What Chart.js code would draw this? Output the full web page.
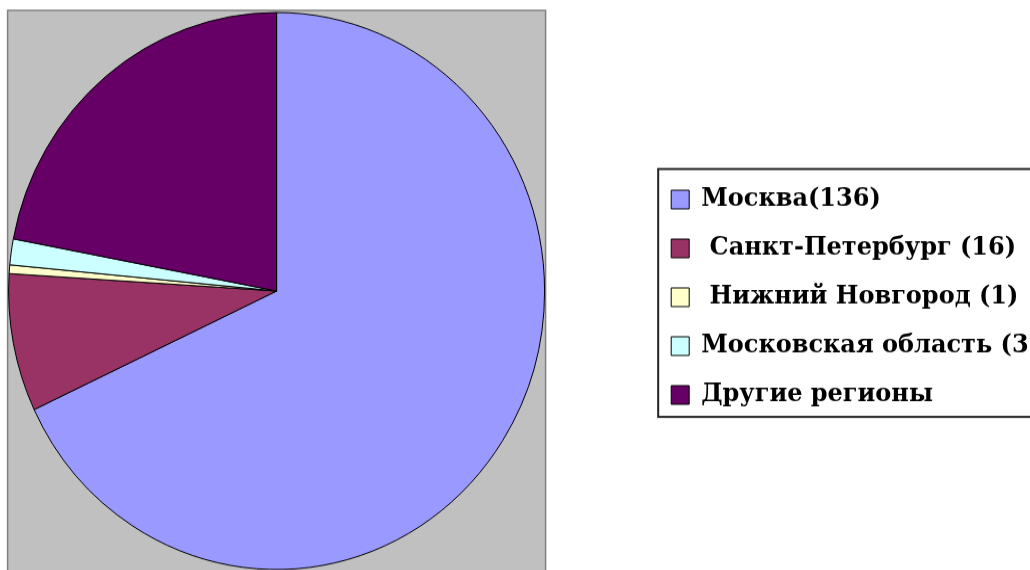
<!DOCTYPE html>
<html>
<head>
    <title>Регионы</title>
    <script src="https://cdn.jsdelivr.net/npm/chart.js"></script>
    <style>
        body {
            margin: 0;
            overflow: hidden;
            background: #fff;
        }
    </style>
</head>
<body>
    <!-- drawn at 560 high and shown a little taller, as in the original -->
    <canvas id="regionChart" width="1050" height="560" style="display:block;width:1050px;height:582px"></canvas>

    <script>
        const regionLabels = ['Москва(136)', ' Санкт-Петербург (16)', ' Нижний Новгород (1)', 'Московская область (3)', 'Другие регионы'];
        const regionValues = [136, 16, 1, 3, 44];
        const regionColors = ['#9999ff', '#993366', '#ffffcc', '#ccffff', '#660066'];

        // grey plot area behind the pie, taken from the pie's own geometry
        const plotBackground = {
            id: 'plotBackground',
            beforeDatasetsDraw(chart) {
                const arc = chart.getDatasetMeta(0).data[0];
                if (!arc) return;
                const r = arc.outerRadius;
                const ctx = chart.ctx;
                ctx.save();
                ctx.fillStyle = '#c0c0c0';
                ctx.fillRect(arc.x - r - 1, arc.y - r - 2, 2 * r + 2, chart.height);
                ctx.strokeStyle = '#808080';
                ctx.lineWidth = 1.5;
                ctx.strokeRect(arc.x - r - 1, arc.y - r - 2, 2 * r + 2, chart.height);
                ctx.restore();
            }
        };

        // frame round the legend
        const legendFrame = {
            id: 'legendFrame',
            afterDraw(chart) {
                const boxes = chart.legend.legendHitBoxes;
                if (!boxes || !boxes.length) return;
                const first = boxes[0];
                const last = boxes[boxes.length - 1];
                const ctx = chart.ctx;
                ctx.save();
                ctx.strokeStyle = '#222';
                ctx.lineWidth = 2;
                ctx.strokeRect(first.left - 13, first.top - 17.4, chart.width, last.top + last.height - first.top + 26.5);
                ctx.restore();
            }
        };

        const ctx = document.getElementById('regionChart').getContext('2d');
        new Chart(ctx, {
            type: 'pie',
            data: {
                labels: regionLabels,
                datasets: [{
                    data: regionValues,
                    backgroundColor: regionColors,
                    borderColor: '#000',
                    borderWidth: 1,
                    radius: 268
                }]
            },
            options: {
                responsive: false,
                animation: false,
                plugins: {
                    tooltip: { enabled: false },
                    // empty title used as a gap between the pie and the legend
                    title: {
                        display: true,
                        text: '',
                        position: 'right',
                        weight: 500,
                        font: { size: 10 },
                        padding: { top: 41.5, bottom: 41.5 }
                    },
                    legend: {
                        position: 'right',
                        maxWidth: 600,
                        title: { display: true, text: '', padding: 0, font: { size: 10 } },
                        labels: {
                            color: '#000',
                            font: { family: "'DejaVu Serif', 'Liberation Serif', serif", size: 24, weight: 'bold' },
                            boxWidth: 18,
                            boxHeight: 18,
                            padding: 23
                        }
                    }
                }
            },
            plugins: [plotBackground, legendFrame]
        });
    </script>
</body>
</html>
